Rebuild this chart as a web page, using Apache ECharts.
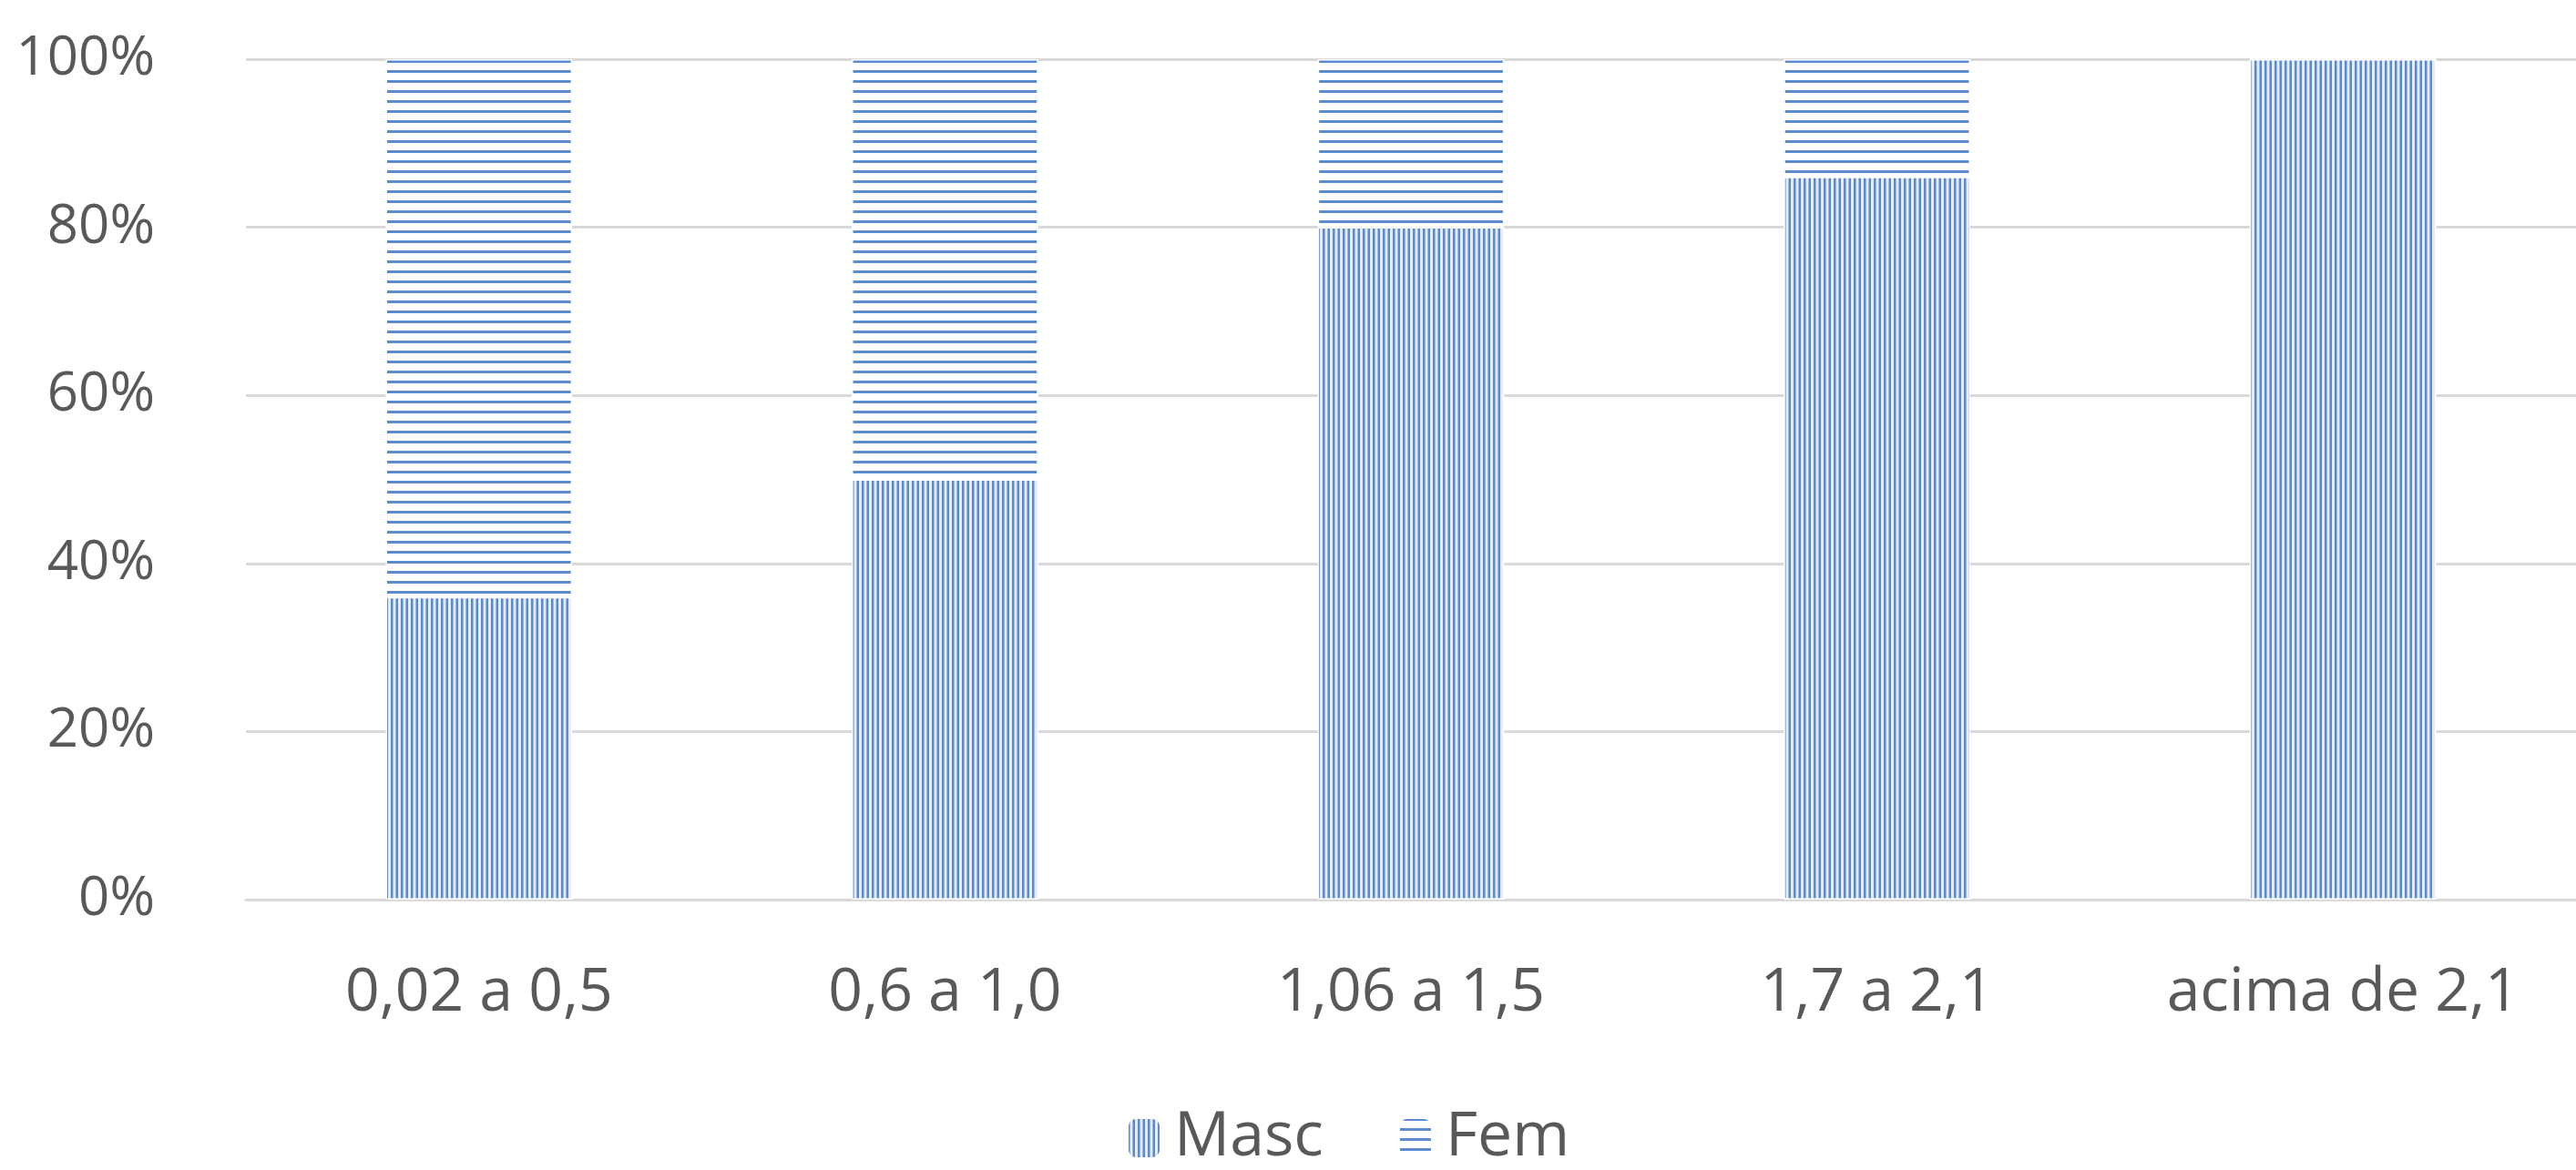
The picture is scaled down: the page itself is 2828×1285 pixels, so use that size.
<!DOCTYPE html>
<html><head><meta charset="utf-8">
<script src="https://cdn.jsdelivr.net/npm/echarts@6/dist/echarts.min.js"></script>
<style>html,body{margin:0;padding:0;background:#fff}#c{width:2828px;height:1285px}</style>
</head><body><div id="c"></div>
<script>
const categories = ['0,02 a 0,5','0,6 a 1,0','1,06 a 1,5','1,7 a 2,1','acima de 2,1'];
const masc = [36, 50, 80, 86, 100];
const fem = [64, 50, 20, 14, 0];
const yTicks = [0, 20, 40, 60, 80, 100];

function pat(vertical){
  const c = document.createElement('canvas');
  if (vertical){
    c.width = 11; c.height = 10;
    const g = c.getContext('2d');
    g.fillStyle = '#e3ebf6'; g.fillRect(0,0,11,10);
    g.fillStyle = '#5b8ad0';
    g.fillRect(0,0,2.5,10); g.fillRect(5.5,0,2.5,10);
  } else {
    c.width = 10; c.height = 11;
    const g = c.getContext('2d');
    g.fillStyle = '#ffffff'; g.fillRect(0,0,10,11);
    g.fillStyle = '#5b8ad0';
    g.fillRect(0,0,10,3);
  }
  return {image: c, repeat: 'repeat'};
}
const font = 'Open Sans';
const chart = echarts.init(document.getElementById('c'));
chart.setOption({
  animation:false,
  grid:{left:270,right:0,top:65,bottom:297,containLabel:false},
  legend:{bottom:-4,left:1232,itemWidth:36,itemHeight:44,itemGap:82,
    textStyle:{fontFamily:font,fontSize:68,color:'#595959',padding:[0,0,0,10]},
    data:['Masc','Fem']},
  xAxis:{type:'category',data:categories,
    axisLine:{lineStyle:{color:'#d9d9d9',width:3}},axisTick:{show:false},
    axisLabel:{fontFamily:font,fontSize:66,color:'#595959',margin:70,interval:0}},
  yAxis:{type:'value',min:0,max:100,interval:20,
    axisLabel:{fontFamily:font,fontSize:60,color:'#595959',margin:100,
      formatter:v=>yTicks.includes(v)?v+'%':''},
    splitLine:{lineStyle:{color:'#d9d9d9',width:3}},
    axisLine:{show:false},axisTick:{show:false}},
  series:[
    {name:'Masc',type:'bar',stack:'s',data:masc,barCategoryGap:'60%',
      itemStyle:{color:pat(true),borderColor:'#fff',borderWidth:1.5}},
    {name:'Fem',type:'bar',stack:'s',data:fem,barCategoryGap:'60%',
      itemStyle:{color:pat(false),borderColor:'#fff',borderWidth:1.5}}
  ]
});
</script></body></html>
